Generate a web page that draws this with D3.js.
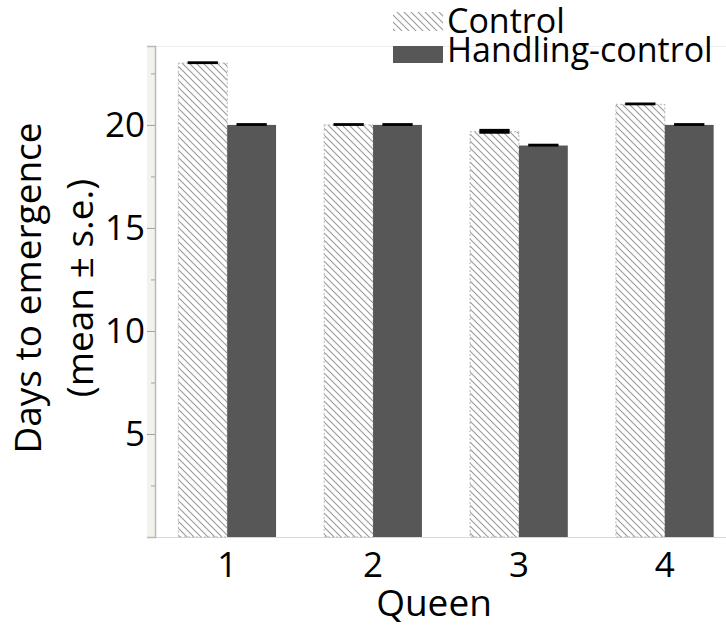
<html>
  <head>
    <script src="https://cdnjs.cloudflare.com/ajax/libs/d3/7.9.0/d3.min.js"></script>
    <style>
      body { margin: 0; background: #fff; }
      text { font-family: "Open Sans", "Noto Sans", sans-serif; fill: #000; }
    </style>
  </head>
  <body onload="main()">
  </body>
  <script>
    const queens = ['1', '2', '3', '4']
    const groups = ['Control', 'Handling-control']
    const controlMeans = [23, 20, 19.67, 21]
    const handlingMeans = [20, 20, 19, 20]
    const controlSE = [0, 0, 0.05, 0]
    const handlingSE = [0, 0, 0, 0]
    const yTicks = [5, 10, 15, 20]
    const yMinorTicks = [2.5, 7.5, 12.5, 17.5, 22.5]

    function main() {
      const width = 726
      const height = 626
      const svg = d3.select('body')
        .append('svg')
        .attr('width', width)
        .attr('height', height)

      const defs = svg.append('defs')
      const pattern = defs.append('pattern')
        .attr('id', 'hatch')
        .attr('patternUnits', 'userSpaceOnUse')
        .attr('width', 7)
        .attr('height', 7)
      pattern.append('rect').attr('width', 7).attr('height', 7).attr('fill', '#fff')
      pattern.append('path')
        .attr('d', 'M-1,-1 L8,8 M-4,3 L1,8 M3,-4 L8,1')
        .attr('stroke', '#9a9a9a')
        .attr('stroke-width', 1.1)

      const left = 155, right = 737, top = 46, bottom = 537
      const x = d3.scaleBand().domain(queens).range([left, right]).paddingInner(0.33).paddingOuter(0.16)
      const xSub = d3.scaleBand().domain(groups).range([0, x.bandwidth()])
      const y = d3.scaleLinear().domain([0, 23.83]).range([bottom, top])

      // axis band and frame
      svg.append('rect')
        .attr('x', 147).attr('y', top)
        .attr('width', left - 147).attr('height', bottom - top)
        .attr('fill', '#f3f3ee')
      svg.append('line')
        .attr('x1', left).attr('x2', width)
        .attr('y1', top + 0.5).attr('y2', top + 0.5)
        .attr('stroke', '#eeeeee')
      svg.append('line')
        .attr('x1', 147).attr('x2', width)
        .attr('y1', bottom + 0.5).attr('y2', bottom + 0.5)
        .attr('stroke', '#d8d8d8')

      const yAxis = svg.append('g')
        .attr('transform', `translate(${left},0)`)
        .call(d3.axisLeft(y).tickValues(yTicks).tickSize(8).tickPadding(2))
      yAxis.select('.domain').attr('stroke', '#b8b8b8').attr('stroke-width', 1.5)
      yAxis.selectAll('.tick line').attr('stroke', '#a0a0a0')
      yAxis.selectAll('.tick text')
        .attr('font-size', 35)
        .attr('font-family', '"Open Sans", sans-serif')
        .attr('fill', '#000')
      svg.append('g')
        .attr('transform', `translate(${left},0)`)
        .call(d3.axisLeft(y).tickValues(yMinorTicks).tickSize(4).tickFormat(''))
        .call(g => g.select('.domain').remove())
        .call(g => g.selectAll('.tick line').attr('stroke', '#a0a0a0'))

      const rows = queens.map((q, i) => [
        { q, g: groups[0], v: controlMeans[i], se: controlSE[i] },
        { q, g: groups[1], v: handlingMeans[i], se: handlingSE[i] }
      ]).flat()

      svg.append('g')
        .selectAll('rect')
        .data(rows)
        .enter()
        .append('rect')
        .attr('x', d => x(d.q) + xSub(d.g))
        .attr('y', d => y(d.v))
        .attr('width', xSub.bandwidth())
        .attr('height', d => y(0) - y(d.v))
        .attr('fill', d => d.g === groups[0] ? 'url(#hatch)' : '#575757')
        .attr('stroke', d => d.g === groups[0] ? '#b5b5b5' : 'none')
        .attr('stroke-dasharray', '2,2')

      // error bars (caps)
      const capW = xSub.bandwidth() * 0.62
      svg.append('g')
        .selectAll('rect')
        .data(rows)
        .enter()
        .append('rect')
        .attr('x', d => x(d.q) + xSub(d.g) + (xSub.bandwidth() - capW) / 2)
        .attr('y', d => y(d.v + d.se) - 1.8)
        .attr('width', capW)
        .attr('height', d => y(d.v - d.se) - y(d.v + d.se) + 2.8)
        .attr('fill', '#000')

      // x labels
      svg.append('g')
        .attr('transform', `translate(0,${bottom})`)
        .call(d3.axisBottom(x).tickSize(0).tickPadding(15))
        .call(g => g.select('.domain').remove())
        .call(g => g.selectAll('.tick text')
          .attr('font-size', 35)
          .attr('font-family', '"Open Sans", sans-serif')
          .attr('fill', '#000'))

      svg.append('text')
        .attr('x', 434)
        .attr('y', 616)
        .attr('text-anchor', 'middle')
        .attr('font-size', 37)
        .text('Queen')

      const yl = svg.append('text')
        .attr('transform', 'translate(0,288) rotate(-90)')
        .attr('text-anchor', 'middle')
        .attr('font-size', 37)
      yl.append('tspan').attr('x', 0).attr('y', 41).text('Days to emergence')
      yl.append('tspan').attr('x', 0).attr('y', 93).text('(mean ± s.e.)')

      // legend
      const legend = svg.append('g')
      const legendRows = [
        { g: groups[0], y0: 12, h: 19, fill: 'url(#hatch)', text: 33 },
        { g: groups[1], y0: 46, h: 17, fill: '#575757', text: 62 }
      ]
      legendRows.forEach(r => {
        legend.append('rect')
          .attr('x', 393).attr('y', r.y0)
          .attr('width', 50).attr('height', r.h)
          .attr('fill', r.fill)
        legend.append('text')
          .attr('x', 447).attr('y', r.text)
          .attr('font-size', 34)
          .text(r.g)
      })
    }
  </script>
</html>
